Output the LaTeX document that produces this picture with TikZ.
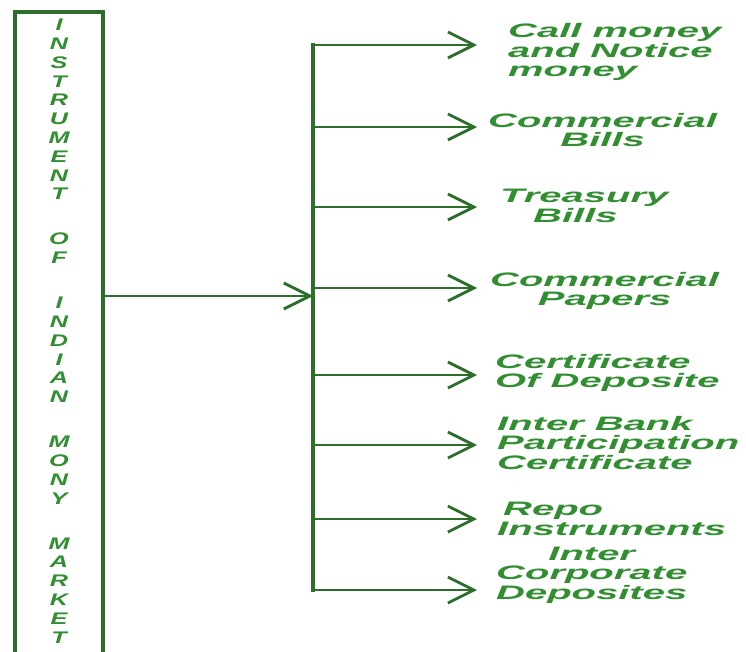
\documentclass[tikz,border=0pt]{standalone}
\usepackage{fontspec}
\setmainfont{Liberation Sans}
\newfontfamily\itemfont[FakeStretch=2.05]{Liberation Sans}
\newfontfamily\titlefont[FakeStretch=1.5]{Liberation Sans}
\usetikzlibrary{arrows.meta}
\definecolor{linegreen}{HTML}{2D6E2D}
\definecolor{textgreen}{HTML}{318E31}

\begin{document}
\begin{tikzpicture}[x=1pt, y=-1pt, >={Straight Barb[length=26pt,width=26pt]},
    item/.style={anchor=west, inner sep=0pt, text=textgreen, font=\itemfont\bfseries\itshape\fontsize{19.5}{19.5}\selectfont},
    title/.style={anchor=north, inner sep=0pt, align=center, text=textgreen, font=\titlefont\bfseries\itshape\fontsize{16.8}{18.8}\selectfont},
    branch/.style={draw=linegreen, line width=2.8pt, ->}]
      \useasboundingbox (0,0) rectangle (746,652);

      % frame round the vertical title
      \draw[linegreen, line width=3.5pt] (15,670) -- (15,12) -- (103,12) -- (103,670);
      \node[title] (title) at (59,19) {I\\N\\S\\T\\R\\U\\M\\E\\N\\T\\[26.2pt]O\\F\\[26.2pt]I\\N\\D\\I\\A\\N\\[26.2pt]M\\O\\N\\Y\\[26.2pt]M\\A\\R\\K\\E\\T};

      % branches
      \foreach \n/\yy in {1/45,2/127,3/207,4/288,5/375,6/445,7/519,8/590}{
        \coordinate (j\n) at (313,\yy);
        \coordinate (t\n) at (477,\yy);
        \draw[branch] (j\n) -- (t\n);
      }
      \draw[linegreen, line width=4.5pt, line cap=rect] (j1) -- (j8);

      \coordinate (boxedge) at (103,296);
      \coordinate (busin) at (313,296);
      \draw[branch] (boxedge) -- (busin);

      % instruments
      \node[item, align=left] (call) at (508,52) {Call money\\and Notice\\money};
      \node[item, align=center] (cbills) at (488,130) {Commercial\\Bills};
      \node[item, align=left] (tbills) at (500,206) {Treasury\\\hspace*{33pt}Bills};
      \node[item, align=center] (cpapers) at (490,291) {Commercial\\Papers};
      \node[item, align=left] (cdep) at (495,373) {Certificate\\Of Deposite};
      \node[item, align=left] (ibpc) at (497,443) {Inter Bank\\Participation\\Certificate};
      \node[item, align=left] (repo) at (497,519) {\hspace*{6pt}Repo\\Instruments};
      \node[item, align=center] (icd) at (496,575) {Inter\\Corporate\\Deposites};
    \end{tikzpicture}
\end{document}
